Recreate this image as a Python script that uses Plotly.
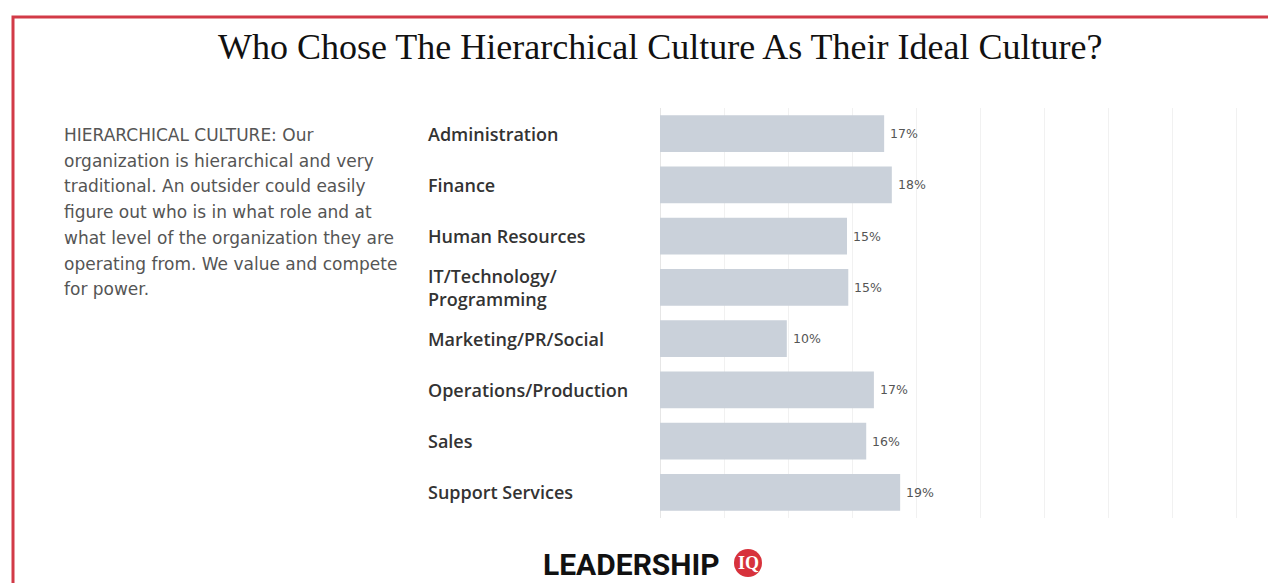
import plotly.graph_objects as go

# ---- data ----
categories = ["Administration", "Finance", "Human Resources", "IT/Technology/<br>Programming",
              "Marketing/PR/Social", "Operations/Production", "Sales", "Support Services"]
values = [17.5, 18.1, 14.6, 14.7, 9.9, 16.7, 16.1, 18.75]
value_labels = ["17%", "18%", "15%", "15%", "10%", "17%", "16%", "19%"]
title_text = "Who Chose The Hierarchical Culture As Their Ideal Culture?"
description_lines = [
    "HIERARCHICAL CULTURE: Our",
    "organization is hierarchical and very",
    "traditional. An outsider could easily",
    "figure out who is in what role and at",
    "what level of the organization they are",
    "operating from. We value and compete",
    "for power.",
]

W, H = 1268, 583
def px(x):
    return x / W
def py(y):
    return 1 - y / H

bar_color = "#cad1da"
cats_idx = list(range(len(categories)))

fig = go.Figure()
fig.add_trace(go.Bar(
    x=values,
    y=cats_idx,
    orientation="h",
    marker=dict(color=bar_color, line=dict(width=0)),
    width=0.72,
    hoverinfo="skip",
))

annotations = []
# Value labels
for i, (v, t) in enumerate(zip(values, value_labels)):
    annotations.append(dict(
        x=v, xref="x", xanchor="left", xshift=4,
        y=i, yref="y", yanchor="middle",
        text=t, showarrow=False,
        font=dict(family="DejaVu Sans", size=12.5, color="#555555"),
    ))
# Category labels (left aligned)
for i, c in enumerate(categories):
    annotations.append(dict(
        x=px(426), xref="paper", xanchor="left",
        y=i, yref="y", yanchor="middle",
        text=c, showarrow=False, align="left",
        font=dict(family="Open Sans", size=18, color="#333333", weight=600),
    ))
# Description text
for j, line in enumerate(description_lines):
    annotations.append(dict(
        x=px(62), xref="paper", xanchor="left",
        y=py(135 + j * 25.7), yref="paper", yanchor="middle",
        text=line, showarrow=False, align="left",
        font=dict(family="DejaVu Sans", size=17, color="#555555"),
    ))
# Title
annotations.append(dict(
    x=px(660), xref="paper", xanchor="center",
    y=py(47), yref="paper", yanchor="middle",
    text=title_text, showarrow=False,
    font=dict(family="Liberation Serif", size=36, color="#111111"),
))
# Logo text
annotations.append(dict(
    x=px(722), xref="paper", xanchor="right",
    y=py(564), yref="paper", yanchor="middle",
    text="<b>LEADERSHIP</b>", showarrow=False,
    font=dict(family="Liberation Sans Narrow, Roboto", size=30, color="#111111"),
))
annotations.append(dict(
    x=px(748), xref="paper", xanchor="center",
    y=py(563), yref="paper", yanchor="middle",
    text="<b>IQ</b>", showarrow=False,
    font=dict(family="Liberation Serif", size=18, color="#ffffff"),
))

shapes = [
    # red frame
    dict(type="rect", xref="paper", yref="paper",
         x0=px(13), x1=px(1290), y0=py(17), y1=py(620),
         line=dict(color="#d23a47", width=3), fillcolor="rgba(0,0,0,0)", layer="below"),
    # logo circle
    dict(type="circle", xref="paper", yref="paper",
         x0=px(734), x1=px(762), y0=py(577), y1=py(549),
         fillcolor="#d7323c", line=dict(width=0)),
]

fig.update_layout(
    width=W, height=H,
    margin=dict(l=0, r=0, t=0, b=0),
    paper_bgcolor="white",
    plot_bgcolor="white",
    showlegend=False,
    annotations=annotations,
    shapes=shapes,
    xaxis=dict(
        domain=[px(660), px(1262)],
        range=[0, 47],
        dtick=5, tick0=0,
        showgrid=True, gridcolor="#f1f1f1", gridwidth=1,
        zeroline=True, zerolinecolor="#e6e6e6", zerolinewidth=1,
        showticklabels=False, ticks="",
        showline=False,
        fixedrange=True,
    ),
    yaxis=dict(
        domain=[py(518), py(108)],
        range=[len(categories) - 0.5, -0.5],
        showticklabels=False, ticks="",
        showgrid=False, zeroline=False, showline=False,
        fixedrange=True,
    ),
)

fig.write_html("out.html", config={"displayModeBar": False},
               post_script="document.body.style.margin='0';")
